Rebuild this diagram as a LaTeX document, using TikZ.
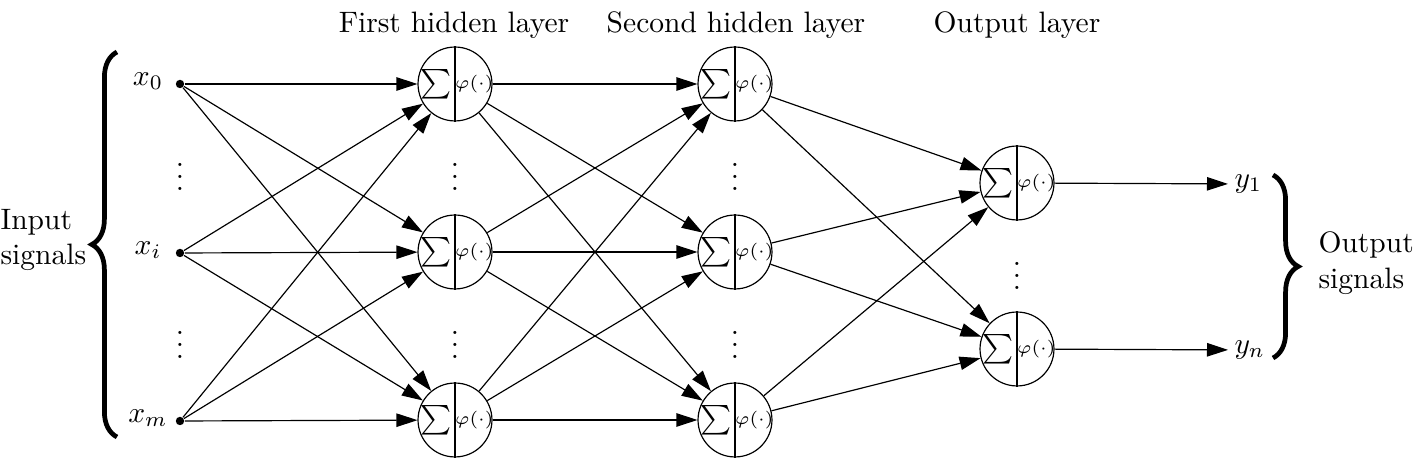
\documentclass[tikz,border=0pt]{standalone}
\usepackage{amsmath,amssymb}
\usepackage{tikz}
\usetikzlibrary{positioning,arrows.meta,decorations.pathreplacing}
\tikzset{
  every node/.style={font=\normalsize},
  neuron/.style={
    circle, draw=black, fill=white,
    minimum size=0.88cm, inner sep=0pt
  },
  inputdot/.style={
    circle, fill=black, minimum size=0.1cm, inner sep=0pt
  },
  synapse/.style={
    -{Triangle[length=2.5mm,width=1.6mm]},
    draw=black
  },
  bigbrace/.style={
    decorate, decoration={brace,amplitude=0.3cm},
    line width=1.6pt
  },
}
\newcommand{\neuron}[2]{%
  \node[neuron] (#1) at (#2) {};
  \draw (#1.north) -- (#1.south);
  \node[inner sep=0pt] (#1-sum) at ([xshift=-0.23cm]#1.center) {$\sum$};
  \node[inner sep=0pt, font=\fontsize{6pt}{7pt}\selectfont] (#1-act) at ([xshift=0.23cm]#1.center) {$\varphi(\cdot)$};
}

\begin{document}
\begin{tikzpicture}[x=1.19cm, y=-1.19cm]
  \useasboundingbox (0,0) rectangle (14.14,4.66);
  % layer titles
  \node (t-h1) at (4.54,0.25) {First hidden layer};
  \node (t-h2) at (7.36,0.25) {Second hidden layer};
  \node (t-out) at (10.17,0.25) {Output layer};
  % inputs
  \node[inputdot] (x0) at (1.80,0.84) {};
  \node[inputdot] (xi) at (1.80,2.53) {};
  \node[inputdot] (xm) at (1.80,4.21) {};
  \node (x0-lab) at (1.48,0.81) {$x_0$};
  \node (xi-lab) at (1.48,2.50) {$x_i$};
  \node (xm-lab) at (1.48,4.18) {$x_m$};
  \node (x-dots1) at (1.80,1.68) {$\vdots$};
  \node (x-dots2) at (1.80,3.36) {$\vdots$};
  % first hidden layer
  \neuron{ha1}{4.55,0.84}
  \neuron{ha2}{4.55,2.52}
  \neuron{ha3}{4.55,4.20}
  \node (ha-dots1) at (4.55,1.68) {$\vdots$};
  \node (ha-dots2) at (4.55,3.36) {$\vdots$};
  % second hidden layer
  \neuron{hb1}{7.35,0.84}
  \neuron{hb2}{7.35,2.52}
  \neuron{hb3}{7.35,4.20}
  \node (hb-dots1) at (7.35,1.68) {$\vdots$};
  \node (hb-dots2) at (7.35,3.36) {$\vdots$};
  % output layer
  \neuron{o1}{10.17,1.83}
  \neuron{o2}{10.17,3.49}
  \node (o-dots) at (10.17,2.67) {$\vdots$};
  \node[inner sep=2pt, anchor=west] (y1) at (12.28,1.84) {$y_1$};
  \node[inner sep=2pt, anchor=west] (yn) at (12.28,3.50) {$y_n$};
  % connections
  \foreach \s in {x0,xi,xm}
    \foreach \t in {ha1,ha2,ha3}
      \draw[synapse] (\s) -- (\t);
  \foreach \s in {ha1,ha2,ha3}
    \foreach \t in {hb1,hb2,hb3}
      \draw[synapse] (\s) -- (\t);
  \foreach \s in {hb1,hb2,hb3}
    \foreach \t in {o1,o2}
      \draw[synapse] (\s) -- (\t);
  \draw[synapse] (o1) -- (y1);
  \draw[synapse] (o2) -- (yn);
  % braces
  \draw[bigbrace] (1.17,4.37) coordinate (lb-bot) -- (1.17,0.52) coordinate (lb-top);
  \node[anchor=west, align=left, inner sep=0pt] (in-lab) at (0.0,2.40) {Input\\signals};
  \draw[bigbrace] (12.73,1.75) coordinate (rb-top) -- (12.73,3.58) coordinate (rb-bot);
  \node[anchor=west, align=left, inner sep=0pt] (out-lab) at (13.18,2.63) {Output\\signals};
\end{tikzpicture}
\end{document}
